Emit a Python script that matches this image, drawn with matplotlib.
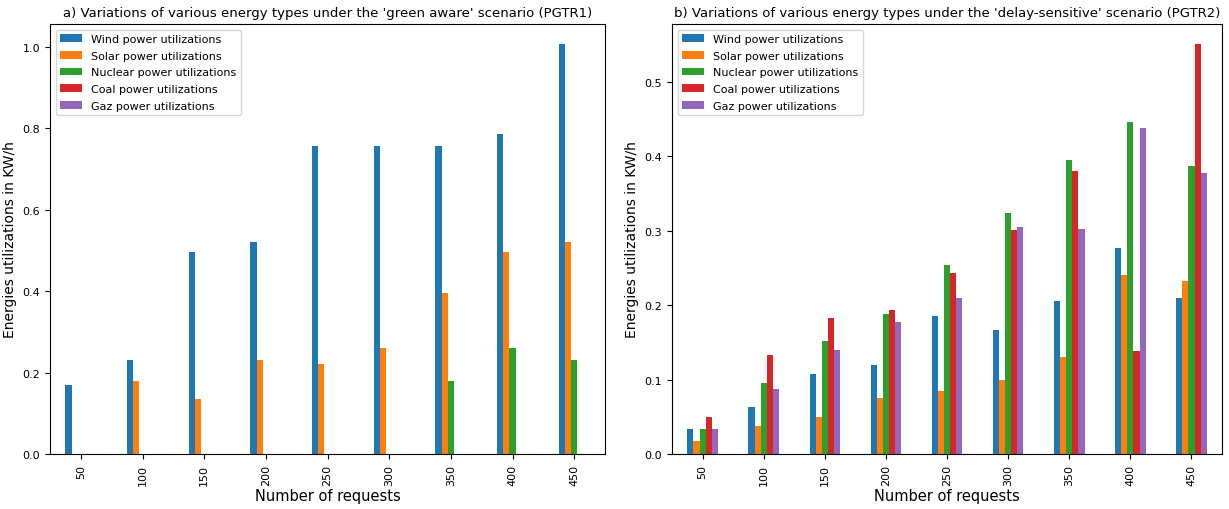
import matplotlib
matplotlib.use("Agg")
import matplotlib.pyplot as plt
import numpy as np

requests = [50, 100, 150, 200, 250, 300, 350, 400, 450]
labels = ["Wind power utilizations", "Solar power utilizations", "Nuclear power utilizations",
          "Coal power utilizations", "Gaz power utilizations"]
colors = ["#1f77b4", "#ff7f0e", "#2ca02c", "#d62728", "#9467bd"]

a_wind = [0.17, 0.23, 0.495, 0.52, 0.755, 0.755, 0.755, 0.785, 1.005]
a_solar = [0.0, 0.18, 0.135, 0.23, 0.22, 0.26, 0.395, 0.495, 0.52]
a_nuclear = [0, 0, 0, 0, 0, 0, 0.18, 0.26, 0.23]
a_coal = [0] * 9
a_gaz = [0] * 9

b_wind = [0.034, 0.063, 0.108, 0.12, 0.185, 0.167, 0.205, 0.277, 0.21]
b_solar = [0.017, 0.037, 0.05, 0.075, 0.085, 0.1, 0.13, 0.24, 0.233]
b_nuclear = [0.034, 0.095, 0.152, 0.188, 0.254, 0.323, 0.395, 0.446, 0.387]
b_coal = [0.05, 0.133, 0.182, 0.193, 0.243, 0.301, 0.38, 0.138, 0.55]
b_gaz = [0.034, 0.087, 0.14, 0.177, 0.209, 0.305, 0.302, 0.438, 0.377]

fig = plt.figure(figsize=(12.29, 5.1), dpi=100)
ax1 = fig.add_axes([50/1229, 55/510, 555/1229, 430/510])
ax2 = fig.add_axes([672/1229, 55/510, 550/1229, 430/510])
panels = [
    (ax1, [a_wind, a_solar, a_nuclear, a_coal, a_gaz],
     "a) Variations of various energy types under the 'green aware' scenario (PGTR1)"),
    (ax2, [b_wind, b_solar, b_nuclear, b_coal, b_gaz],
     "b) Variations of various energy types under the 'delay-sensitive' scenario (PGTR2)"),
]
x = np.arange(len(requests))
w = 0.1
for ax, series, title in panels:
    for i, (s, lab, c) in enumerate(zip(series, labels, colors)):
        ax.bar(x + (i - 2) * w, s, w, label=lab, color=c)
    ax.set_xticks(x)
    ax.set_xticklabels([str(r) for r in requests], rotation=90)
    ax.set_xlim(-0.5, len(requests) - 0.5)
    ax.set_xlabel("Number of requests", fontsize=10.5, labelpad=2)
    ax.set_ylabel("Energies utilizations in KW/h", fontsize=10)
    ax.set_title(title, fontsize=9.5)
    ax.legend(loc="upper left", fontsize=8, labelspacing=0.6)
    ax.tick_params(labelsize=8)

fig.savefig("out.png")
